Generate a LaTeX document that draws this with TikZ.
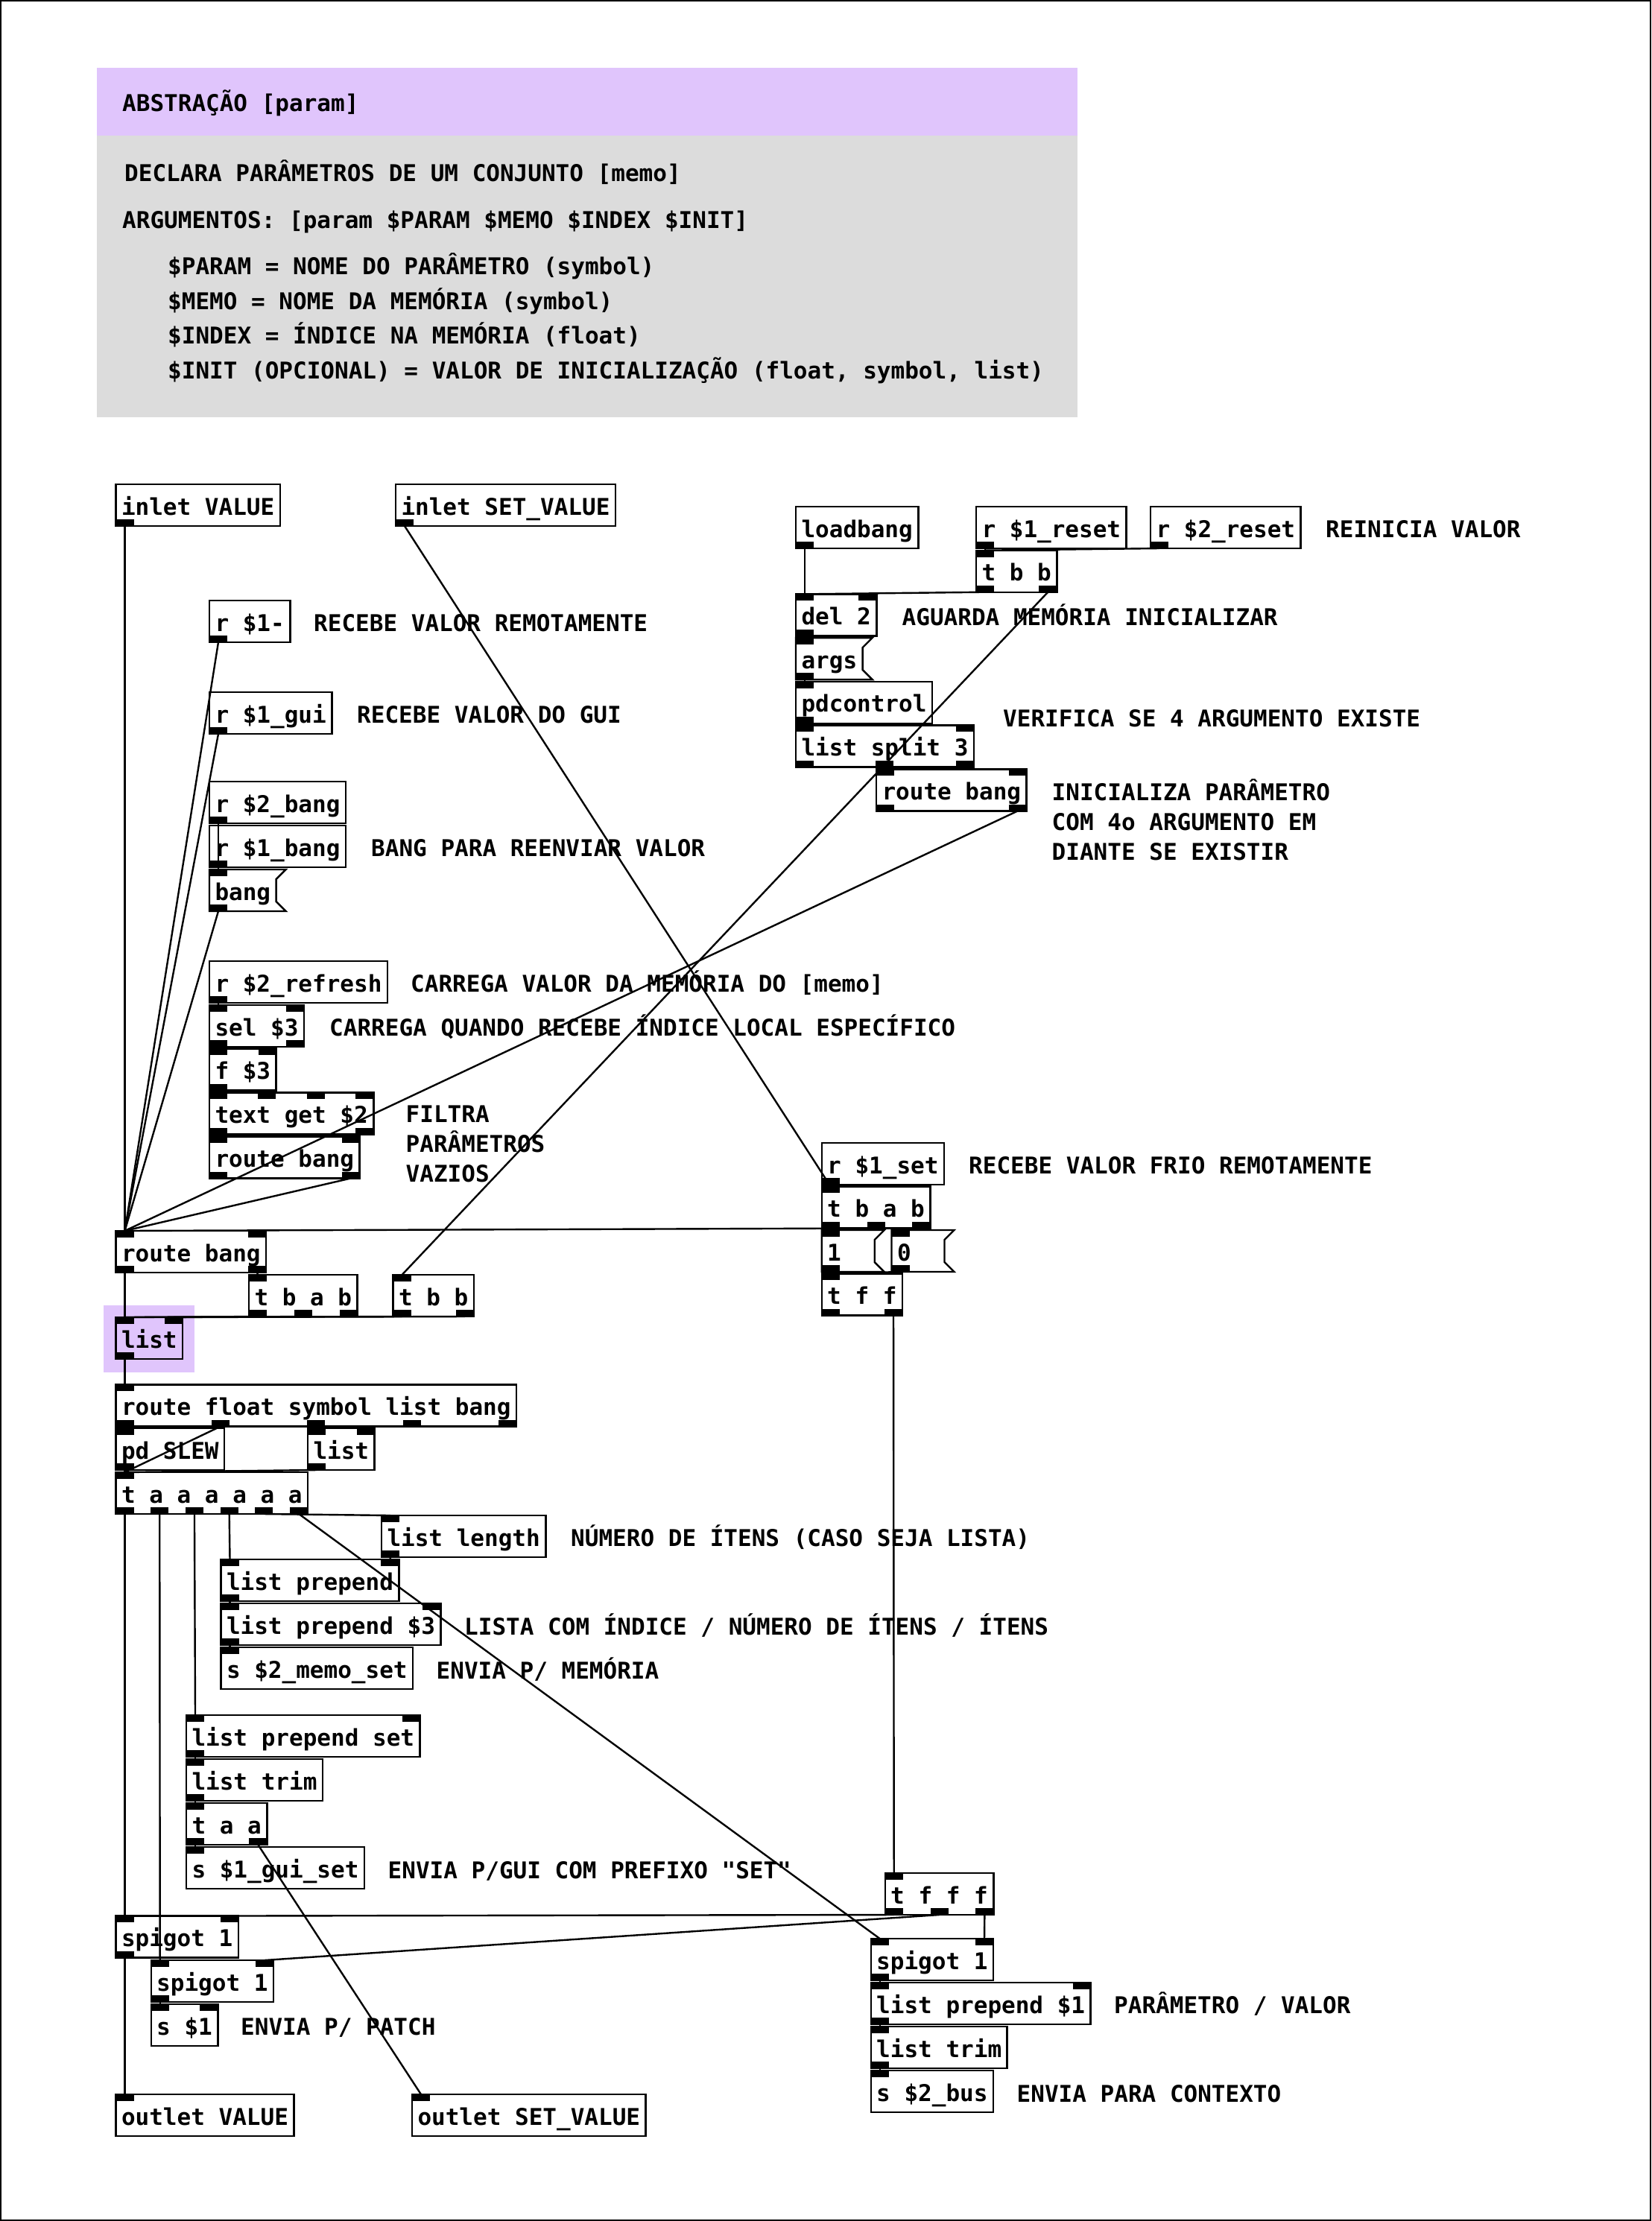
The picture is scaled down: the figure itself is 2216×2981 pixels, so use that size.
\documentclass[tikz,border=0pt]{standalone}
\usepackage{fontspec}
\newfontfamily\pdfont{DejaVu Sans Mono}
\usetikzlibrary{calc}
\definecolor{hdrpurple}{RGB}{224,197,252}
\definecolor{hdrgray}{RGB}{220,220,220}
\tikzset{
  pdfnt/.style={font=\pdfont\bfseries\fontsize{31}{37}\selectfont},
  pdobj/.style={pdfnt, draw, line width=2.4pt, anchor=north west, inner xsep=7.5pt, inner ysep=0pt,
    outer sep=0pt, minimum height=56pt, text height=26pt, text depth=0pt},
  pdmsg/.style={pdobj, draw=none},
  pdcomment/.style={pdfnt, anchor=base west, inner sep=0pt},
  wire/.style={line width=2.4pt},
}
\newcommand\pdio[3]{%
  \ifnum#2>0\relax
  \foreach \k in {1,...,#2}{%
    \ifnum#2>1\relax\pgfmathsetmacro\iofrac{(\k-1)/(#2-1)}\else\def\iofrac{0}\fi
    \fill ($(#1.north west)!\iofrac!([xshift=-24pt]#1.north east)+(0pt,1.2pt)$) rectangle ++(24pt,-10pt);
    \coordinate (#1-i\k) at ($(#1.north west)!\iofrac!([xshift=-24pt]#1.north east)+(12pt,0pt)$);
  }\fi
  \ifnum#3>0\relax
  \foreach \k in {1,...,#3}{%
    \ifnum#3>1\relax\pgfmathsetmacro\iofrac{(\k-1)/(#3-1)}\else\def\iofrac{0}\fi
    \fill ($(#1.south west)!\iofrac!([xshift=-24pt]#1.south east)+(0pt,-1.2pt)$) rectangle ++(24pt,10pt);
    \coordinate (#1-o\k) at ($(#1.south west)!\iofrac!([xshift=-24pt]#1.south east)+(12pt,0pt)$);
  }\fi
}
\newcommand\pdbox[6]{\node[pdobj] (#1) at (#2,#3) {#4}; \pdio{#1}{#5}{#6}}
\newcommand\pdmsgbox[6]{\node[pdmsg] (#1) at (#2,#3) {#4};
  \draw[line width=2.4pt] (#1.north west) -- ([xshift=13pt]#1.north east) -- ([yshift=-13pt]#1.north east)
   -- ([yshift=13pt]#1.south east) -- ([xshift=13pt]#1.south east) -- (#1.south west) -- cycle;
  \pdio{#1}{#5}{#6}}
\newcommand\cmt[4]{\node[pdcomment] (#1) at (#2,#3) {#4};}
\begin{document}
\begin{tikzpicture}[x=1pt,y=-1pt]
\useasboundingbox (0,0) rectangle (2216,2981);
\fill[white] (0,0) rectangle (2216,2981);
\draw[line width=2pt] (1,1) rectangle (2215,2980);
% header
\fill[hdrpurple] (129.5,91.5) rectangle (1445.5,182.5);
\fill[hdrgray] (129.5,182.5) rectangle (1445.5,560);
\cmt{h1}{164}{150}{ABSTRAÇÃO [param]}
\cmt{h2}{167}{243}{DECLARA PARÂMETROS DE UM CONJUNTO [memo]}
\cmt{h3}{164}{306.5}{ARGUMENTOS: [param \$PARAM \$MEMO \$INDEX \$INIT]}
\cmt{h4}{225}{368}{\$PARAM = NOME DO PARÂMETRO (symbol)}
\cmt{h5}{225}{415}{\$MEMO = NOME DA MEMÓRIA (symbol)}
\cmt{h6}{225}{461.5}{\$INDEX = ÍNDICE NA MEMÓRIA (float)}
\cmt{h7}{225}{508}{\$INIT (OPCIONAL) = VALOR DE INICIALIZAÇÃO (float, symbol, list)}
% highlight
\fill[hdrpurple] (139,1751.5) rectangle (261,1842);
% objects
\pdbox{inV}{155.5}{650}{inlet VALUE}{0}{1}
\pdbox{inS}{531}{650}{inlet SET\_VALUE}{0}{1}
\pdbox{lb}{1068}{680}{loadbang}{0}{1}
\pdbox{rrst1}{1310}{680}{r \$1\_reset}{0}{1}
\pdbox{rrst2}{1544}{680}{r \$2\_reset}{0}{1}
\pdbox{tbb1}{1310}{738.7}{t b b}{1}{2}
\pdbox{del}{1068}{797.4}{del 2}{2}{1}
\pdmsgbox{args}{1068}{856.1}{args}{1}{1}
\pdbox{pdc}{1068}{914.8}{pdcontrol}{1}{1}
\pdbox{lsp}{1068}{973.5}{list split 3}{2}{3}
\pdbox{rbI}{1176}{1032.5}{route bang}{2}{2}
\pdbox{rr1}{281}{806}{r \$1-}{0}{1}
\pdbox{rgui}{281}{929}{r \$1\_gui}{0}{1}
\pdbox{rb2}{281}{1049}{r \$2\_bang}{0}{1}
\pdbox{rb1}{281}{1108}{r \$1\_bang}{0}{1}
\pdmsgbox{bng}{281}{1167}{bang}{1}{1}
\pdbox{rref}{281}{1290}{r \$2\_refresh}{0}{1}
\pdbox{sel}{281}{1349}{sel \$3}{2}{2}
\pdbox{fl}{281}{1407.5}{f \$3}{2}{1}
\pdbox{tget}{281}{1466.5}{text get \$2}{4}{2}
\pdbox{rbF}{281}{1525.5}{route bang}{2}{2}
\pdbox{rset}{1102.7}{1534}{r \$1\_set}{0}{1}
\pdbox{tbab2}{1102.7}{1592.5}{t b a b}{1}{3}
\pdmsgbox{m1}{1102.7}{1651}{1\phantom{00}}{1}{1}
\pdmsgbox{m0}{1196.5}{1651}{0\phantom{00}}{1}{1}
\pdbox{tff}{1102.7}{1709.5}{t f f}{1}{2}
\pdbox{rbM}{155.5}{1652}{route bang}{2}{2}
\pdbox{tbab1}{334}{1711}{t b a b}{1}{3}
\pdbox{tbb2}{527.5}{1711}{t b b}{1}{2}
\pdbox{lst}{155.5}{1768}{list}{2}{1}
\pdbox{rfs}{155.5}{1858.5}{route float symbol list bang}{1}{5}
\pdbox{slew}{155.5}{1917}{pd SLEW}{1}{1}
\pdbox{lst2}{413}{1917}{list}{2}{1}
\pdbox{t6}{155.5}{1976}{t a a a a a a}{1}{6}
\pdbox{llen}{512}{2034}{list length}{1}{1}
\pdbox{lp}{296.5}{2093}{list prepend}{2}{1}
\pdbox{lp3}{296.5}{2152}{list prepend \$3}{2}{1}
\pdbox{smemo}{296.5}{2211}{s \$2\_memo\_set}{1}{0}
\pdbox{lps}{250}{2302}{list prepend set}{2}{1}
\pdbox{ltr1}{250}{2361}{list trim}{1}{1}
\pdbox{taa}{250}{2420}{t a a}{1}{2}
\pdbox{sgui}{250}{2479}{s \$1\_gui\_set}{1}{0}
\pdbox{tfff}{1187.7}{2514}{t f f f}{1}{3}
\pdbox{sp1}{155.5}{2571.5}{spigot 1}{2}{1}
\pdbox{sp2}{202.7}{2631}{spigot 1}{2}{1}
\pdbox{s1}{202.7}{2690}{s \$1}{2}{0}
\pdbox{sp3}{1168.7}{2602}{spigot 1}{2}{1}
\pdbox{lp1}{1168.7}{2661}{list prepend \$1}{2}{1}
\pdbox{ltr2}{1168.7}{2720}{list trim}{1}{1}
\pdbox{sbus}{1168.7}{2779}{s \$2\_bus}{1}{0}
\pdbox{outV}{155.5}{2811}{outlet VALUE}{1}{0}
\pdbox{outS}{553}{2811}{outlet SET\_VALUE}{1}{0}
% comments
\cmt{c1}{1779}{721}{REINICIA VALOR}
\cmt{c2}{1210.5}{839}{AGUARDA MEMÓRIA INICIALIZAR}
\cmt{c3}{1346}{975}{VERIFICA SE 4 ARGUMENTO EXISTE}
\cmt{c4}{1411.5}{1074}{INICIALIZA PARÂMETRO}
\cmt{c5}{1411.5}{1114}{COM 4o ARGUMENTO EM}
\cmt{c6}{1411.5}{1154}{DIANTE SE EXISTIR}
\cmt{c7}{421}{847}{RECEBE VALOR REMOTAMENTE}
\cmt{c8}{479}{970}{RECEBE VALOR DO GUI}
\cmt{c9}{498}{1149}{BANG PARA REENVIAR VALOR}
\cmt{c10}{551}{1331}{CARREGA VALOR DA MEMÓRIA DO [memo]}
\cmt{c11}{442}{1390}{CARREGA QUANDO RECEBE ÍNDICE LOCAL ESPECÍFICO}
\cmt{c12}{544.5}{1506}{FILTRA}
\cmt{c13}{544.5}{1546}{PARÂMETROS}
\cmt{c14}{544.5}{1586}{VAZIOS}
\cmt{c15}{1300}{1575}{RECEBE VALOR FRIO REMOTAMENTE}
\cmt{c16}{766}{2075}{NÚMERO DE ÍTENS (CASO SEJA LISTA)}
\cmt{c17}{623}{2194}{LISTA COM ÍNDICE / NÚMERO DE ÍTENS / ÍTENS}
\cmt{c18}{585.5}{2253}{ENVIA P/ MEMÓRIA}
\cmt{c19}{520.5}{2521}{ENVIA P/GUI COM PREFIXO "SET"}
\cmt{c20}{323}{2731}{ENVIA P/ PATCH}
\cmt{c21}{1495}{2702}{PARÂMETRO / VALOR}
\cmt{c22}{1364.5}{2821}{ENVIA PARA CONTEXTO}
% connections
\draw[wire] (inV-o1) -- (rbM-i1);
\draw[wire] (inS-o1) -- (tbab2-i1);
\draw[wire] (lb-o1) -- (del-i1);
\draw[wire] (rrst1-o1) -- (tbb1-i1);
\draw[wire] (rrst2-o1) -- (tbb1-i1);
\draw[wire] (tbb1-o1) -- (del-i1);
\draw[wire] (tbb1-o2) -- (tbb2-i1);
\draw[wire] (del-o1) -- (args-i1);
\draw[wire] (args-o1) -- (pdc-i1);
\draw[wire] (pdc-o1) -- (lsp-i1);
\draw[wire] (lsp-o2) -- (rbI-i1);
\draw[wire] (rbI-o2) -- (rbM-i1);
\draw[wire] (rr1-o1) -- (rbM-i1);
\draw[wire] (rgui-o1) -- (rbM-i1);
\draw[wire] (rb2-o1) -- (bng-i1);
\draw[wire] (rb1-o1) -- (bng-i1);
\draw[wire] (bng-o1) -- (rbM-i1);
\draw[wire] (rref-o1) -- (sel-i1);
\draw[wire] (sel-o1) -- (fl-i1);
\draw[wire] (fl-o1) -- (tget-i1);
\draw[wire] (tget-o1) -- (rbF-i1);
\draw[wire] (rbF-o2) -- (rbM-i1);
\draw[wire] (rset-o1) -- (tbab2-i1);
\draw[wire] (tbab2-o1) -- (m1-i1);
\draw[wire] (tbab2-o2) -- (rbM-i1);
\draw[wire] (tbab2-o3) -- (m0-i1);
\draw[wire] (m1-o1) -- (tff-i1);
\draw[wire] (m0-o1) -- (tff-i1);
\draw[wire] (tff-o2) -- (tfff-i1);
\draw[wire] (rbM-o1) -- (lst-i1);
\draw[wire] (rbM-o2) -- (tbab1-i1);
\draw[wire] (tbab1-o1) -- (lst-i1);
\draw[wire] (tbab1-o2) -- (lst-i2);
\draw[wire] (tbb2-o1) -- (lst-i1);
\draw[wire] (tbb2-o2) -- (lst-i2);
\draw[wire] (lst-o1) -- (rfs-i1);
\draw[wire] (rfs-o1) -- (slew-i1);
\draw[wire] (rfs-o2) -- (t6-i1);
\draw[wire] (rfs-o3) -- (lst2-i1);
\draw[wire] (slew-o1) -- (t6-i1);
\draw[wire] (lst2-o1) -- (t6-i1);
\draw[wire] (t6-o1) -- (sp1-i1);
\draw[wire] (t6-o2) -- (sp2-i1);
\draw[wire] (t6-o3) -- (lps-i1);
\draw[wire] (t6-o4) -- (lp-i1);
\draw[wire] (t6-o5) -- (llen-i1);
\draw[wire] (t6-o6) -- (sp3-i1);
\draw[wire] (llen-o1) -- (lp-i2);
\draw[wire] (lp-o1) -- (lp3-i1);
\draw[wire] (lp3-o1) -- (smemo-i1);
\draw[wire] (lps-o1) -- (ltr1-i1);
\draw[wire] (ltr1-o1) -- (taa-i1);
\draw[wire] (taa-o1) -- (sgui-i1);
\draw[wire] (taa-o2) -- (outS-i1);
\draw[wire] (tfff-o1) -- (sp1-i2);
\draw[wire] (tfff-o2) -- (sp2-i2);
\draw[wire] (tfff-o3) -- (sp3-i2);
\draw[wire] (sp1-o1) -- (outV-i1);
\draw[wire] (sp2-o1) -- (s1-i1);
\draw[wire] (sp3-o1) -- (lp1-i1);
\draw[wire] (lp1-o1) -- (ltr2-i1);
\draw[wire] (ltr2-o1) -- (sbus-i1);
\end{tikzpicture}
\end{document}
